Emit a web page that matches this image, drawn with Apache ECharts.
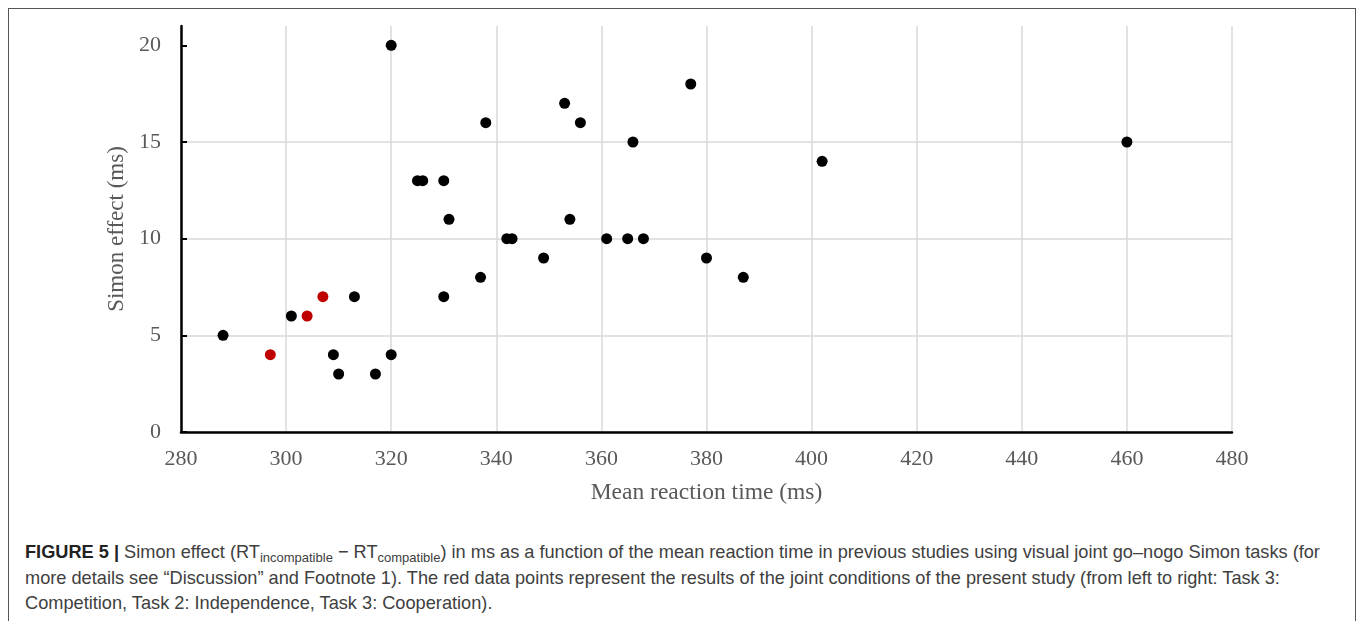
<!DOCTYPE html>
<html>
<head>
<meta charset="utf-8">
<script src="https://cdn.jsdelivr.net/npm/echarts@6/dist/echarts.min.js"></script>
<style>
  html, body { margin: 0; padding: 0; width: 1357px; height: 621px; overflow: hidden; background: #fff; }
  .frame { position: absolute; left: 8px; top: 8px; width: 1346px; height: 700px; border: 1px solid #555; border-bottom: none; }
  #chart { position: absolute; left: 0; top: 0; width: 1357px; height: 521px; }
  .caption {
    position: absolute; left: 25px; top: 540px; width: 1330px; white-space: nowrap;
    font-family: "Liberation Sans", Arial, sans-serif; font-size: 18.2px; line-height: 25.5px; color: #404040;
  }
  .caption b { color: #222; }
  .caption sub { font-size: 13px; vertical-align: -4px; line-height: 0; }
</style>
</head>
<body>
<div class="frame"></div>
<div id="chart"></div>
<div class="caption"><b>FIGURE 5 |</b> Simon effect (RT<sub>incompatible</sub> &minus; RT<sub>compatible</sub>) in ms as a function of the mean reaction time in previous studies using visual joint go&ndash;nogo Simon tasks (for<br>more details see &ldquo;Discussion&rdquo; and Footnote 1). The red data points represent the results of the joint conditions of the present study (from left to right: Task 3:<br>Competition, Task 2: Independence, Task 3: Cooperation).</div>
<script>
  // previous studies: [mean RT (ms), Simon effect (ms)]
  var previousStudies = [
    [288, 5], [301, 6], [309, 4], [310, 3], [313, 7], [317, 3], [320, 4], [320, 20],
    [325, 13], [326, 13], [330, 13], [330, 7], [331, 11], [337, 8], [338, 16],
    [342, 10], [343, 10], [349, 9], [353, 17], [354, 11], [356, 16], [361, 10],
    [365, 10], [366, 15], [368, 10], [377, 18], [380, 9], [387, 8], [402, 14], [460, 15]
  ];
  // present study (joint conditions)
  var presentStudy = [[297, 4], [304, 6], [307, 7]];
  var yTicks = [0, 5, 10, 15, 20];

  var myChart = echarts.init(document.getElementById('chart'));
  var serif = '"Liberation Serif", "Times New Roman", serif';
  var option = {
    animation: false,
    grid: { left: 181, right: 125, top: 26, bottom: 89 },
    xAxis: {
      type: 'value',
      min: 280,
      max: 480,
      interval: 20,
      name: 'Mean reaction time (ms)',
      nameLocation: 'middle',
      nameGap: 49,
      nameTextStyle: { fontFamily: serif, fontSize: 23.5, color: '#595959' },
      axisLine: { show: true, lineStyle: { color: '#000', width: 2.5 } },
      axisTick: { show: false },
      axisLabel: { fontFamily: serif, fontSize: 22, color: '#595959', margin: 16 },
      splitLine: { show: true, lineStyle: { color: '#d9d9d9', width: 1.5 } }
    },
    yAxis: {
      type: 'value',
      min: 0,
      max: 21,
      interval: 5,
      name: 'Simon effect (ms)',
      nameLocation: 'middle',
      nameGap: 53,
      nameTextStyle: { fontFamily: serif, fontSize: 23, color: '#595959' },
      axisLine: { show: true, lineStyle: { color: '#000', width: 2.5 } },
      axisTick: { show: true, inside: true, length: 6, customValues: yTicks, lineStyle: { color: '#000', width: 2 } },
      axisLabel: { fontFamily: serif, fontSize: 22, color: '#595959', margin: 20, customValues: yTicks },
      splitLine: { show: true, showMaxLine: false, lineStyle: { color: '#d9d9d9', width: 1.5 } }
    },
    series: [
      {
        type: 'scatter',
        data: previousStudies,
        symbolSize: 11,
        itemStyle: { color: '#000', opacity: 1 }
      },
      {
        type: 'scatter',
        data: presentStudy,
        symbolSize: 11,
        itemStyle: { color: '#c00000', opacity: 1 }
      }
    ]
  };
  myChart.setOption(option, true);
</script>
</body>
</html>
